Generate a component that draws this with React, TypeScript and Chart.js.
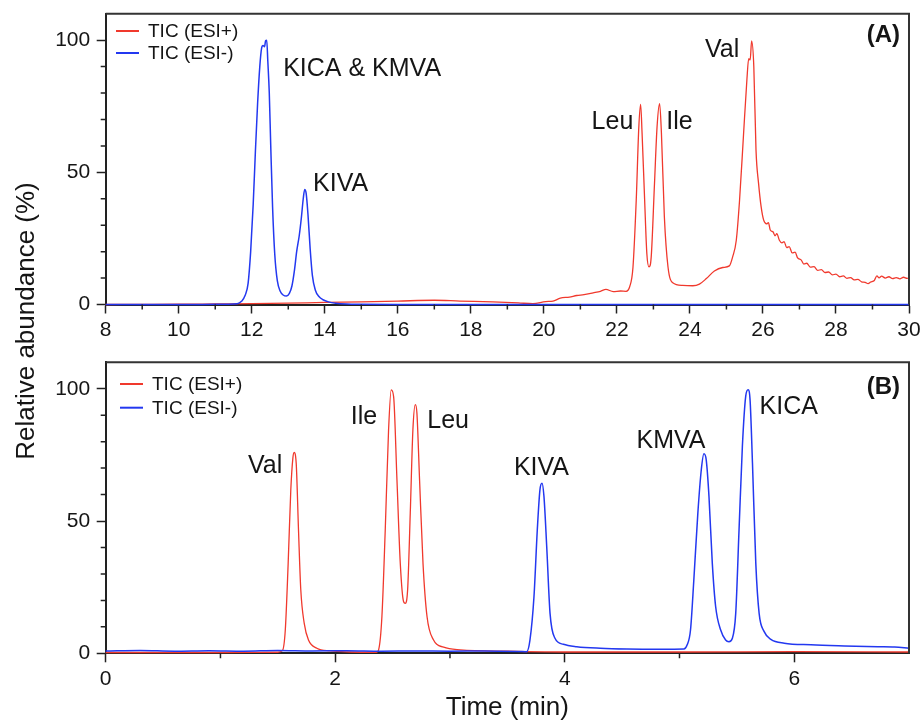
import React, { useEffect, useRef } from "react";
import { Chart, registerables } from "chart.js";
Chart.register(...registerables);

const FONT = "'Liberation Sans', Arial, Helvetica, sans-serif";
const RED = "#f0392d";
const BLUE = "#2338f0";
const INK = "#151515";

// ---------- Panel A data (time in min, relative abundance %) ----------
const timeA_pos = [8, 9, 10, 11, 12, 13, 14, 15, 16, 17, 17.7, 18.6, 19.3, 19.7, 20.05, 20.25, 20.45, 20.7, 20.9, 21.1, 21.35, 21.55, 21.7, 21.9, 22.1, 22.25, 22.35, 22.44, 22.53, 22.6, 22.65, 22.69, 22.76, 22.82, 22.88, 22.94, 23.03, 23.1, 23.17, 23.22, 23.3, 23.4, 23.53, 23.8, 24.08, 24.26, 24.45, 24.67, 24.9, 25.08, 25.17, 25.27, 25.36, 25.47, 25.56, 25.61, 25.65, 25.69, 25.75, 25.81, 25.88, 25.95, 26.02, 26.1, 26.15, 26.2, 26.28, 26.33, 26.38, 26.45, 26.52, 26.58, 26.65, 26.72, 26.8, 26.88, 26.95, 27.05, 27.12, 27.2, 27.3, 27.4, 27.5, 27.6, 27.7, 27.8, 27.9, 28.0, 28.1, 28.2, 28.3, 28.4, 28.5, 28.6, 28.7, 28.8, 28.88, 28.95, 29.05, 29.12, 29.18, 29.25, 29.35, 29.45, 29.55, 29.65, 29.75, 29.85, 29.95, 30];
const ticA_pos = [0, 0.05, 0.1, 0.2, 0.3, 0.5, 0.8, 1.0, 1.3, 1.6, 1.3, 1.0, 0.6, 0.3, 1.1, 1.3, 2.4, 2.8, 3.4, 3.7, 4.4, 5.0, 5.7, 4.9, 5.1, 5.0, 6.7, 14, 39.5, 67, 75.7, 64.7, 39.5, 19.3, 14.2, 18, 45.8, 67.2, 76, 64.7, 33.2, 14.2, 8.2, 7.2, 7.1, 7.7, 9.8, 12.7, 14, 14.6, 18, 24.3, 39.5, 64.7, 84.9, 93, 92.5, 99.7, 89.9, 58.4, 45.8, 37, 31.9, 30.5, 31, 28.2, 27.4, 26, 26.8, 24.3, 23.3, 23.8, 21.5, 21.9, 19.5, 19.8, 17.6, 16.8, 15.3, 15.6, 14.1, 14.3, 12.9, 13.2, 12.1, 12.3, 11.2, 11.5, 10.5, 10.8, 9.9, 10.2, 9.3, 9.5, 8.6, 8.4, 7.9, 8.5, 9.1, 10.8, 10.1, 10.7, 10.0, 10.5, 9.8, 10.2, 9.7, 10.3, 9.9, 10.1];

const timeA_neg = [8, 10, 11, 11.6, 11.72, 11.82, 11.9, 11.97, 12.04, 12.1, 12.16, 12.22, 12.27, 12.31, 12.35, 12.38, 12.41, 12.44, 12.48, 12.52, 12.57, 12.63, 12.7, 12.78, 12.86, 12.95, 13.03, 13.1, 13.17, 13.23, 13.3, 13.36, 13.41, 13.45, 13.49, 13.54, 13.6, 13.66, 13.74, 13.84, 13.95, 14.1, 14.3, 14.6, 15, 16, 18, 20, 22, 24, 26, 28, 30];
const ticA_neg = [0, 0, 0.05, 0.3, 1.2, 3.5, 8, 20, 38, 58, 76, 90, 97, 98, 97.5, 99.8, 100, 92, 80, 60, 37, 19, 9, 5, 3.6, 3.2, 4.2, 7, 13, 20, 26, 33, 40, 43.5, 42, 34, 21, 11, 5.5, 3, 1.8, 1, 0.5, 0.2, 0.1, 0, 0, 0, 0, 0, 0, 0, 0];

// ---------- Panel B data ----------
const timeB_pos = [0, 0.5, 1.0, 1.5, 1.54, 1.565, 1.59, 1.613, 1.631, 1.642, 1.66, 1.68, 1.70, 1.73, 1.767, 1.84, 1.956, 2.13, 2.36, 2.378, 2.407, 2.436, 2.465, 2.488, 2.509, 2.538, 2.567, 2.596, 2.61, 2.631, 2.654, 2.677, 2.698, 2.712, 2.735, 2.765, 2.8, 2.857, 2.945, 3.09, 3.5, 4, 5, 6, 7];
const ticB_pos = [0.3, 0.3, 0.3, 0.4, 1, 8.8, 34, 61.8, 73.8, 75.9, 71.9, 46.7, 24, 11.3, 5, 1.9, 0.9, 0.5, 0.4, 1.3, 13.9, 46.7, 84.5, 99.6, 97, 65.6, 34, 19.5, 18.9, 24, 53, 84.5, 94, 90.8, 65.6, 34, 13.9, 5, 2.3, 1.3, 0.8, 0.5, 0.5, 0.6, 0.5];

const timeB_neg = [0, 0.3, 0.6, 0.9, 1.2, 1.5, 1.8, 2.1, 2.4, 2.7, 3.0, 3.3, 3.6, 3.668, 3.697, 3.732, 3.761, 3.784, 3.802, 3.819, 3.843, 3.872, 3.915, 3.988, 4.105, 4.31, 4.542, 4.834, 5.038, 5.067, 5.096, 5.125, 5.16, 5.19, 5.213, 5.233, 5.257, 5.286, 5.315, 5.359, 5.402, 5.431, 5.461, 5.49, 5.519, 5.548, 5.577, 5.598, 5.615, 5.636, 5.665, 5.694, 5.738, 5.796, 5.913, 6.146, 6.437, 6.729, 6.875, 7];
const ticB_neg = [0.9, 1.1, 0.8, 1.0, 0.8, 1.1, 0.9, 1.0, 0.8, 0.9, 0.8, 0.9, 0.7, 0.6, 5, 21.4, 46.7, 61.8, 64.3, 59.3, 40.4, 15.1, 5.7, 3.4, 2.5, 1.9, 1.6, 1.5, 1.6, 3.2, 8.8, 27.7, 53, 69.4, 75.4, 73.1, 59.3, 34, 17.7, 8.8, 5, 4.4, 5.7, 15.1, 46.7, 78.2, 97.1, 99.6, 95.8, 71.9, 34, 15.1, 8.2, 5.3, 3.8, 3.2, 2.8, 2.5, 2.4, 1.9];

// ---------- Axes / labels ----------
const xTicksA = [8, 10, 12, 14, 16, 18, 20, 22, 24, 26, 28, 30];
const xTicksB = [0, 2, 4, 6];
const yTicks = [0, 50, 100];
const legendLabels = ["TIC (ESI+)", "TIC (ESI-)"];
const panelNames = ["(A)", "(B)"];
const yTitle = "Relative abundance (%)";
const xTitle = "Time (min)";

// peak annotations (data coordinates)
const peakNamesA = ["KICA & KMVA", "KIVA", "Leu", "Ile", "Val"];
const peakXA = [12.86, 13.68, 22.45, 23.35, 25.35];
const peakYA = [89.6, 45.9, 69.2, 69.2, 96.6];
const peakAlignA = ["left", "left", "right", "left", "right"];

const peakNamesB = ["Val", "Ile", "Leu", "KIVA", "KMVA", "KICA"];
const peakXB = [1.538, 2.366, 2.802, 3.797, 4.926, 5.698];
const peakYB = [71.1, 89.6, 88.1, 70.5, 80.5, 93.4];
const peakAlignB = ["right", "right", "left", "center", "center", "left"];

const zip = (xs: number[], ys: number[]) => xs.map((x, i) => ({ x, y: ys[i] }));

type Panel = {
  xMin: number; xMax: number; xTicks: number[];
  pos: { x: number; y: number }[]; neg: { x: number; y: number }[];
  padding: { left: number; top: number; right: number; bottom: number };
  xAxisHeight: number;
  showXTitle: boolean;
  legend: { x0: number; x1: number; tx: number; rows: number[] };
  panelLabel: string; panelLabelY: number;
  peakNames: string[]; peakX: number[]; peakY: number[]; peakAlign: string[];
  drawYTitle: boolean;
};

function decorPlugin(p: Panel) {
  return {
    id: "decor",
    afterDraw(chart: any) {
      const { ctx, chartArea: ca, scales } = chart;
      const xs = scales.x, ys = scales.y;
      ctx.save();
      // frame top & right
      ctx.strokeStyle = "#333";
      ctx.lineWidth = 2;
      ctx.beginPath();
      ctx.moveTo(ca.left, ca.top);
      ctx.lineTo(ca.right, ca.top);
      ctx.lineTo(ca.right, ca.bottom);
      ctx.stroke();
      // minor ticks
      ctx.strokeStyle = "#222";
      ctx.lineWidth = 1.5;
      ctx.beginPath();
      for (let v = xs.min + 1; v < xs.max; v += 2) {
        const px = xs.getPixelForValue(v);
        ctx.moveTo(px, ca.bottom);
        ctx.lineTo(px, ca.bottom + 5);
      }
      for (let v = ys.min + 10; v < ys.max - 1e-6; v += 10) {
        if (Math.abs(v % 50) < 1e-6) continue;
        const py = ys.getPixelForValue(v);
        ctx.moveTo(ca.left - 5, py);
        ctx.lineTo(ca.left, py);
      }
      ctx.stroke();
      // legend
      const colors = [RED, BLUE];
      ctx.font = `19px ${FONT}`;
      ctx.textBaseline = "middle";
      ctx.textAlign = "left";
      p.legend.rows.forEach((ry, i) => {
        ctx.strokeStyle = colors[i];
        ctx.lineWidth = 2;
        ctx.beginPath();
        ctx.moveTo(p.legend.x0, ry);
        ctx.lineTo(p.legend.x1, ry);
        ctx.stroke();
        ctx.fillStyle = INK;
        ctx.fillText(legendLabels[i], p.legend.tx, ry + 1);
      });
      // panel label
      ctx.font = `bold 24px ${FONT}`;
      ctx.textAlign = "right";
      ctx.fillStyle = INK;
      ctx.fillText(p.panelLabel, ca.right - 9, p.panelLabelY);
      // peak labels
      ctx.font = `25px ${FONT}`;
      p.peakNames.forEach((n, i) => {
        ctx.textAlign = p.peakAlign[i] as CanvasTextAlign;
        ctx.fillText(n, xs.getPixelForValue(p.peakX[i]), ys.getPixelForValue(p.peakY[i]) + 1);
      });
      // shared y title
      if (p.drawYTitle) {
        ctx.save();
        ctx.translate(27, 321);
        ctx.rotate(-Math.PI / 2);
        ctx.textAlign = "center";
        ctx.textBaseline = "middle";
        ctx.font = `26px ${FONT}`;
        ctx.fillStyle = INK;
        ctx.fillText(yTitle, 0, 0);
        ctx.restore();
      }
      ctx.restore();
    },
  };
}

function makeConfig(p: Panel): any {
  const tickFont = { size: 21, family: FONT };
  const gridCfg = { display: true, drawOnChartArea: false, drawTicks: true, tickLength: 9, tickWidth: 1.5, tickColor: "#222", color: "#222" };
  return {
    type: "line",
    data: {
      datasets: [
        { label: legendLabels[0], data: p.pos, borderColor: RED, borderWidth: 1.3, pointRadius: 0, cubicInterpolationMode: "monotone", order: 1, clip: 4, fill: false },
        { label: legendLabels[1], data: p.neg, borderColor: BLUE, borderWidth: 1.5, pointRadius: 0, cubicInterpolationMode: "monotone", order: 0, clip: 4, fill: false },
      ],
    },
    options: {
      animation: false,
      responsive: false,
      devicePixelRatio: 1,
      events: [],
      layout: { padding: p.padding },
      plugins: { legend: { display: false }, tooltip: { enabled: false }, title: { display: false } },
      scales: {
        x: {
          type: "linear",
          min: p.xMin,
          max: p.xMax,
          afterFit: (ax: any) => { ax.height = p.xAxisHeight; ax.paddingLeft = 0; ax.paddingRight = 0; },
          afterBuildTicks: (ax: any) => { ax.ticks = p.xTicks.map((v) => ({ value: v })); },
          ticks: { font: tickFont, color: INK, padding: 4, maxRotation: 0, autoSkip: false },
          grid: gridCfg,
          border: { display: true, color: "#222", width: 2 },
          title: p.showXTitle
            ? { display: true, text: xTitle, color: INK, font: { size: 26, family: FONT, lineHeight: 1 }, padding: { top: 0, bottom: 0 } }
            : { display: false },
        },
        y: {
          type: "linear",
          min: 0,
          max: 110,
          afterFit: (ax: any) => { ax.width = 105.7; ax.paddingTop = 0; ax.paddingBottom = 0; },
          afterBuildTicks: (ax: any) => { ax.ticks = yTicks.map((v) => ({ value: v })); },
          ticks: { font: tickFont, color: INK, padding: 6.5 },
          grid: gridCfg,
          border: { display: true, color: "#222", width: 2 },
          title: { display: false },
        },
      },
    },
    plugins: [decorPlugin(p)],
  };
}

const panelA: Panel = {
  xMin: 8, xMax: 30, xTicks: xTicksA,
  pos: zip(timeA_pos, ticA_pos), neg: zip(timeA_neg, ticA_neg),
  padding: { left: 0, top: 13.7, right: 11, bottom: 378.5 },
  xAxisHeight: 40,
  showXTitle: false,
  legend: { x0: 116, x1: 139, tx: 148, rows: [31, 53] },
  panelLabel: panelNames[0], panelLabelY: 35,
  peakNames: peakNamesA, peakX: peakXA, peakY: peakYA, peakAlign: peakAlignA,
  drawYTitle: true,
};

const panelB: Panel = {
  xMin: 0, xMax: 7, xTicks: xTicksB,
  pos: zip(timeB_pos, ticB_pos), neg: zip(timeB_neg, ticB_neg),
  padding: { left: 0, top: 362.3, right: 11, bottom: 1.7 },
  xAxisHeight: 68,
  showXTitle: true,
  legend: { x0: 120, x1: 143, tx: 152, rows: [384, 407.7] },
  panelLabel: panelNames[1], panelLabelY: 387,
  peakNames: peakNamesB, peakX: peakXB, peakY: peakYB, peakAlign: peakAlignB,
  drawYTitle: false,
};

export default function App() {
  const refA = useRef<HTMLCanvasElement>(null);
  const refB = useRef<HTMLCanvasElement>(null);
  useEffect(() => {
    const a = new Chart(refA.current as HTMLCanvasElement, makeConfig(panelA));
    const b = new Chart(refB.current as HTMLCanvasElement, makeConfig(panelB));
    return () => { a.destroy(); b.destroy(); };
  }, []);
  return (
    <div style={{ position: "absolute", left: 0, top: 0, width: 920, height: 723, background: "#fff" }}>
      <canvas ref={refA} width={920} height={723} style={{ position: "absolute", left: 0, top: 0, width: 920, height: 723 }} />
      <canvas ref={refB} width={920} height={723} style={{ position: "absolute", left: 0, top: 0, width: 920, height: 723 }} />
    </div>
  );
}
